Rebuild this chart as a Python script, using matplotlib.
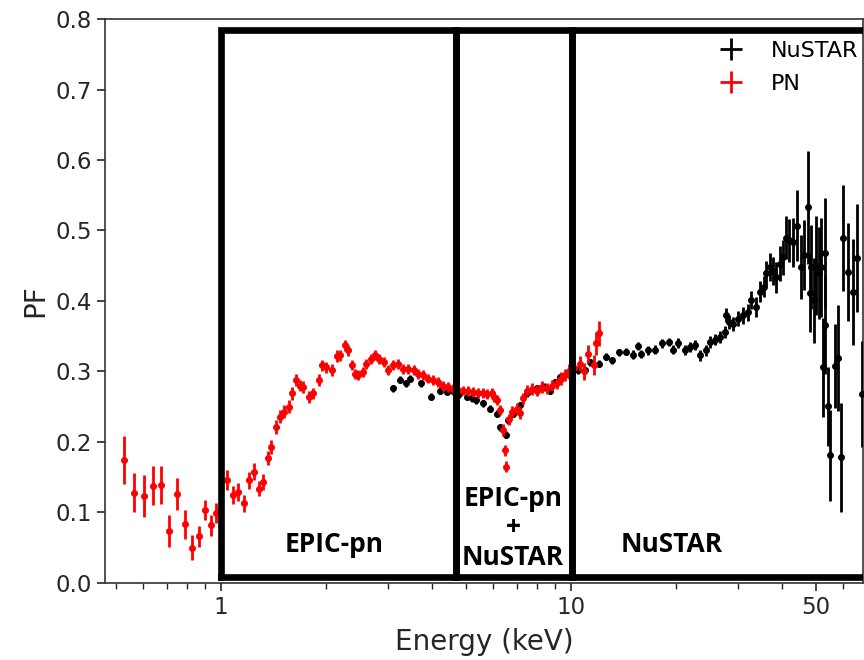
import numpy as np
import matplotlib
matplotlib.use("Agg")
import matplotlib.pyplot as plt
from matplotlib.ticker import FixedLocator, NullFormatter

# PN (EPIC-pn) pulsed fraction
pn_e = [0.528, 0.565, 0.604, 0.641, 0.675, 0.712, 0.749, 0.789, 0.827, 0.864,
        0.898, 0.936, 0.969, 1.04, 1.08, 1.12, 1.16, 1.20, 1.24, 1.28,
        1.32, 1.36, 1.39, 1.44, 1.47, 1.51, 1.56, 1.60, 1.64, 1.68,
        1.72, 1.78, 1.83, 1.90, 1.94, 2.00, 2.07, 2.14, 2.19, 2.26,
        2.31, 2.36, 2.41, 2.47, 2.54, 2.60, 2.69, 2.75, 2.83, 2.92,
        3.01, 3.10, 3.21, 3.32, 3.43, 3.55, 3.66, 3.78, 3.91, 4.04,
        4.17, 4.31, 4.45, 4.60, 4.76, 4.92, 5.08, 5.25, 5.43, 5.61,
        5.77, 5.93, 6.02, 6.13, 6.28, 6.40, 6.48, 6.53, 6.65, 6.78,
        6.99, 7.15, 7.30, 7.47, 7.72, 7.98, 8.25, 8.53, 8.82, 9.11,
        9.37, 9.63, 9.90, 10.2, 10.6, 10.9, 11.2, 11.6, 11.8, 12.0]
pn_pf = [0.174, 0.128, 0.123, 0.138, 0.139, 0.074, 0.126, 0.083, 0.050, 0.066,
         0.104, 0.082, 0.099, 0.146, 0.125, 0.129, 0.113, 0.146, 0.158, 0.134,
         0.143, 0.177, 0.193, 0.221, 0.236, 0.243, 0.250, 0.269, 0.288, 0.280,
         0.278, 0.264, 0.269, 0.288, 0.309, 0.306, 0.302, 0.322, 0.323, 0.337,
         0.330, 0.309, 0.297, 0.295, 0.299, 0.311, 0.318, 0.323, 0.318, 0.313,
         0.302, 0.309, 0.311, 0.304, 0.304, 0.302, 0.297, 0.295, 0.290, 0.288,
         0.285, 0.280, 0.278, 0.275, 0.274, 0.273, 0.272, 0.271, 0.270, 0.269,
         0.268, 0.269, 0.264, 0.259, 0.245, 0.217, 0.188, 0.165, 0.232, 0.243,
         0.247, 0.241, 0.262, 0.273, 0.275, 0.273, 0.278, 0.276, 0.280, 0.283,
         0.290, 0.295, 0.300, 0.305, 0.311, 0.300, 0.325, 0.309, 0.340, 0.354]
pn_err = [0.034, 0.028, 0.030, 0.028, 0.027, 0.023, 0.023, 0.020, 0.018, 0.015,
          0.014, 0.015, 0.014, 0.014, 0.013, 0.013, 0.012, 0.012, 0.012, 0.011,
          0.011, 0.010, 0.010, 0.010, 0.009, 0.009, 0.009, 0.009, 0.009, 0.008,
          0.008, 0.008, 0.008, 0.008, 0.008, 0.008, 0.008, 0.008, 0.008, 0.008,
          0.008, 0.007, 0.007, 0.007, 0.007, 0.007, 0.007, 0.007, 0.007, 0.007,
          0.007, 0.007, 0.007, 0.007, 0.007, 0.007, 0.007, 0.007, 0.007, 0.007,
          0.007, 0.007, 0.007, 0.007, 0.007, 0.007, 0.007, 0.007, 0.007, 0.007,
          0.007, 0.007, 0.007, 0.007, 0.007, 0.008, 0.008, 0.008, 0.008, 0.008,
          0.008, 0.008, 0.008, 0.008, 0.008, 0.008, 0.008, 0.008, 0.008, 0.008,
          0.009, 0.009, 0.010, 0.010, 0.011, 0.012, 0.013, 0.014, 0.016, 0.018]

# NuSTAR pulsed fraction
nu_e = [3.10, 3.25, 3.38, 3.47, 3.74, 3.99, 4.22, 4.41, 4.60, 4.80,
        5.03, 5.20, 5.37, 5.61, 5.87, 6.13, 6.28, 6.54, 6.62, 6.85,
        7.15, 7.47, 7.98, 8.35, 8.72, 9.00, 9.32, 9.95, 10.5, 11.0,
        11.3, 12.0, 12.6, 13.1, 13.7, 14.4, 15.0, 15.5, 15.9, 16.6,
        17.4, 18.2, 19.0, 19.6, 20.2, 21.2, 21.9, 22.6, 23.4, 24.3,
        25.0, 25.8, 26.6, 27.5, 27.8, 28.3, 29.0, 30.0, 31.0, 32.0,
        32.7, 33.8, 34.6, 35.5, 36.2, 37.0, 37.8, 38.6, 39.5, 40.4,
        41.1, 42.0, 43.2, 44.2, 45.3, 46.4, 47.6, 48.3, 48.5, 49.4,
        50.2, 51.0, 51.9, 52.4, 53.3, 53.3, 54.4, 55.0, 56.9, 58.0,
        59.2, 60.0, 62.0, 63.9, 65.6, 67.9]
nu_pf = [0.276, 0.288, 0.283, 0.290, 0.283, 0.264, 0.273, 0.271, 0.272, 0.268,
         0.264, 0.262, 0.259, 0.255, 0.247, 0.240, 0.221, 0.210, 0.231, 0.240,
         0.252, 0.269, 0.276, 0.278, 0.273, 0.285, 0.292, 0.299, 0.302, 0.302,
         0.313, 0.311, 0.321, 0.316, 0.327, 0.328, 0.324, 0.336, 0.325, 0.330,
         0.331, 0.340, 0.342, 0.331, 0.340, 0.330, 0.335, 0.337, 0.323, 0.330,
         0.342, 0.345, 0.349, 0.356, 0.380, 0.370, 0.368, 0.375, 0.380, 0.384,
         0.401, 0.391, 0.413, 0.420, 0.439, 0.448, 0.443, 0.434, 0.453, 0.462,
         0.490, 0.486, 0.483, 0.507, 0.448, 0.465, 0.533, 0.411, 0.448, 0.401,
         0.450, 0.440, 0.448, 0.306, 0.468, 0.366, 0.251, 0.181, 0.308, 0.319,
         0.178, 0.489, 0.441, 0.413, 0.461, 0.268]
nu_err = [0.005, 0.005, 0.005, 0.005, 0.005, 0.005, 0.005, 0.005, 0.005, 0.005,
          0.005, 0.005, 0.005, 0.005, 0.005, 0.005, 0.005, 0.005, 0.005, 0.005,
          0.005, 0.005, 0.005, 0.005, 0.005, 0.005, 0.005, 0.005, 0.005, 0.005,
          0.005, 0.005, 0.005, 0.005, 0.005, 0.005, 0.006, 0.006, 0.006, 0.006,
          0.006, 0.006, 0.006, 0.006, 0.007, 0.007, 0.007, 0.007, 0.008, 0.008,
          0.008, 0.008, 0.009, 0.009, 0.010, 0.010, 0.010, 0.011, 0.012, 0.012,
          0.013, 0.014, 0.015, 0.015, 0.018, 0.020, 0.020, 0.022, 0.025, 0.025,
          0.030, 0.030, 0.035, 0.050, 0.045, 0.050, 0.080, 0.055, 0.060, 0.060,
          0.070, 0.065, 0.070, 0.070, 0.078, 0.070, 0.056, 0.065, 0.060, 0.075,
          0.078, 0.075, 0.070, 0.075, 0.077, 0.075]

# instrument ranges (keV)
edges = [1.0, 4.68, 10.1, 200.0]
region_labels = ["EPIC-pn", "EPIC-pn\n+\nNuSTAR", "NuSTAR"]
label_x = [2.10, 6.83, 19.4]
label_y = [0.055, 0.078, 0.055]

fig = plt.figure(figsize=(8.64, 6.6), dpi=100)
ax = fig.add_axes([0.1215, 0.1167, 0.8773, 0.8545])

nu_e = np.array(nu_e)
pn_e = np.array(pn_e)

ax.errorbar(nu_e, nu_pf, yerr=nu_err, xerr=0.012 * nu_e, fmt="none",
            ecolor="black", elinewidth=2.0, capsize=0, label="NuSTAR", zorder=3)
ax.plot(nu_e, nu_pf, "o", color="black", ms=4, zorder=3)
ax.errorbar(pn_e, pn_pf, yerr=pn_err, xerr=0.015 * pn_e, fmt="none",
            ecolor="red", elinewidth=2.0, capsize=0, label="PN", zorder=4)
ax.plot(pn_e, pn_pf, "o", color="red", ms=4, zorder=4)

for x0, x1 in zip(edges[:-1], edges[1:]):
    ax.plot([x0, x0, x1, x1, x0], [0.0078, 0.784, 0.784, 0.0078, 0.0078],
            color="black", lw=4.8, solid_joinstyle="miter", zorder=5)

for x, y, t in zip(label_x, label_y, region_labels):
    ax.text(x, y, t, ha="center", va="center", fontsize=19,
            fontweight="bold", family="Open Sans", linespacing=1.1, zorder=6)

ax.set_xscale("log")
ax.set_xlim(0.466, 68.3)
ax.set_ylim(0, 0.8)
ax.xaxis.set_major_locator(FixedLocator([1, 10, 50]))
ax.xaxis.set_major_formatter(plt.FixedFormatter(["1", "10", "50"]))
minor = [0.5, 0.6, 0.7, 0.8, 0.9, 2, 3, 4, 5, 6, 7, 8, 9, 20, 30, 40, 60]
ax.xaxis.set_minor_locator(FixedLocator(minor))
ax.xaxis.set_minor_formatter(NullFormatter())
ax.set_yticks(np.arange(0, 0.81, 0.1))
ax.tick_params(axis="both", which="major", labelsize=16.5, length=6,
               width=1.2, colors="#262626")
ax.tick_params(axis="x", which="minor", length=4, width=1.0, colors="#262626")
for s in ax.spines.values():
    s.set_color("#333333")
    s.set_linewidth(1.2)

ax.set_xlabel("Energy (keV)", fontsize=20, color="#262626", labelpad=6)
ax.set_ylabel("PF", fontsize=20, color="#262626")

leg = ax.legend(loc="upper right", bbox_to_anchor=(1.012, 0.985),
                frameon=False, fontsize=16, handlelength=2.0,
                labelspacing=0.6, borderaxespad=0.2)

fig.savefig("out.png", dpi=100)
